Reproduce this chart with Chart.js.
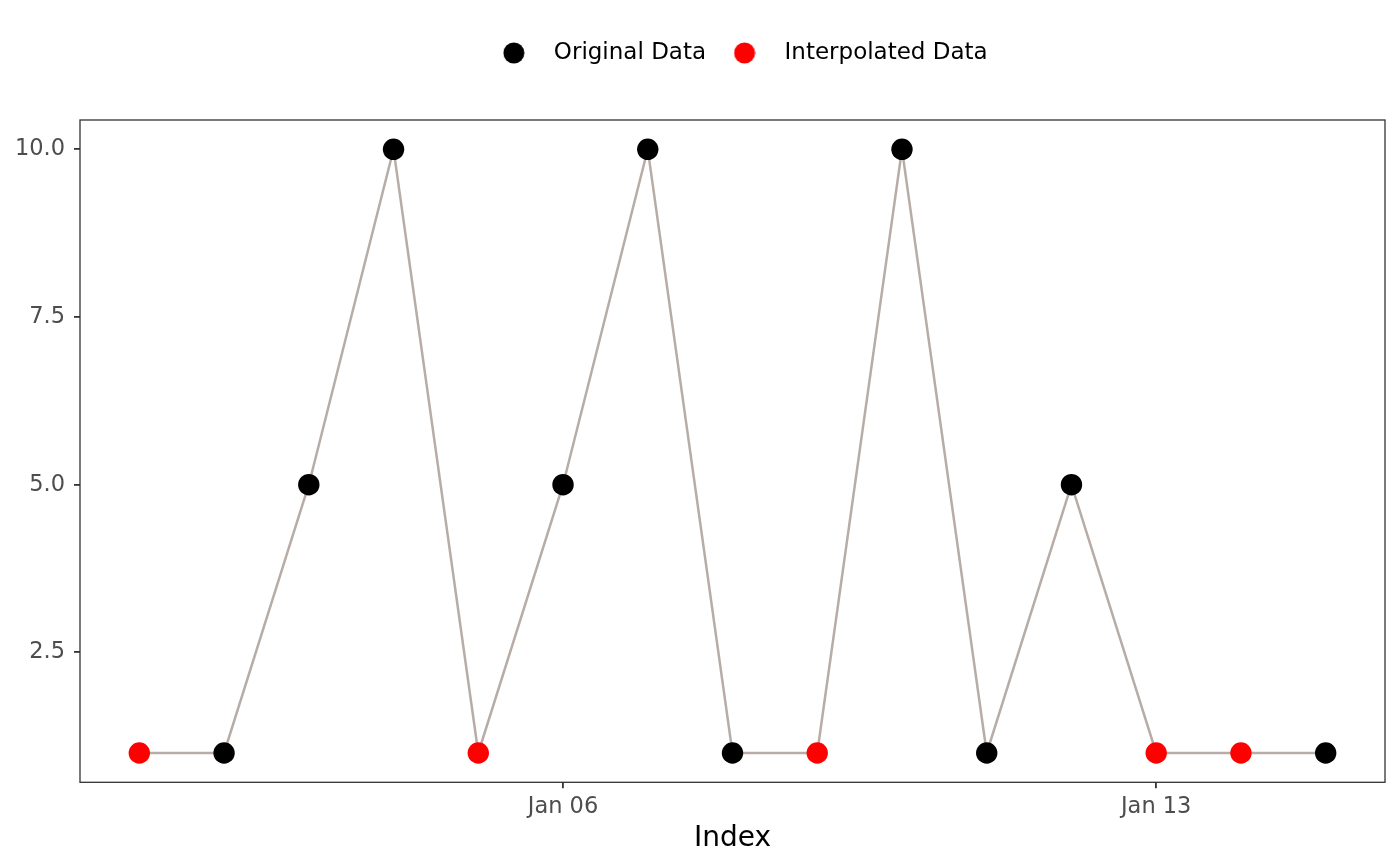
<!DOCTYPE html>
<html>
<head>
<meta charset="utf-8">
<script src="https://cdn.jsdelivr.net/npm/chart.js@4"></script>
<style>
  html, body { margin: 0; padding: 0; background: #ffffff; }
  #wrap { width: 1400px; height: 866px; }
</style>
</head>
<body>
<div id="wrap"><canvas id="c"></canvas></div>
<script>
// ---- data ----
const days = [1, 2, 3, 4, 5, 6, 7, 8, 9, 10, 11, 12, 13, 14, 15];
const values = [1, 1, 5, 10, 1, 5, 10, 1, 1, 10, 1, 5, 1, 1, 1];
const sources = ['interp', 'orig', 'orig', 'orig', 'interp', 'orig', 'orig', 'orig',
                 'interp', 'orig', 'orig', 'orig', 'interp', 'interp', 'orig'];
const xTickValues = [6, 13];
const xTickLabels = ['Jan 06', 'Jan 13'];
const yTickValues = [2.5, 5.0, 7.5, 10.0];
const seriesNames = ['Original Data', 'Interpolated Data'];

const FONT = 'DejaVu Sans';

const origPts = days.map((d, i) => sources[i] === 'orig' ? {x: d, y: values[i]} : null).filter(p => p);
const interpPts = days.map((d, i) => sources[i] === 'interp' ? {x: d, y: values[i]} : null).filter(p => p);
const linePts = days.map((d, i) => ({x: d, y: values[i]}));

function dotImage(color) {
  const cv = document.createElement('canvas');
  cv.width = 22; cv.height = 22;
  const g = cv.getContext('2d');
  g.fillStyle = color;
  g.beginPath();
  g.arc(11, 11, 10.5, 0, Math.PI * 2);
  g.fill();
  return cv;
}
const legendDots = [dotImage('#000000'), dotImage('#ff0000')];

const frame = {
  id: 'frame',
  beforeInit(chart) {
    const lg = chart.legend;
    if (lg) {
      const origFit = lg.fit;
      lg.fit = function () { origFit.call(this); this.height = 88.5; };
      const origDraw = lg.draw;
      lg.draw = function () {
        const ctx = this.ctx;
        ctx.save();
        ctx.translate(44, 0);
        origDraw.call(this);
        ctx.restore();
      };
    }
  },
  afterDatasetsDraw(chart) {
    const a = chart.chartArea, ctx = chart.ctx;
    ctx.save();
    ctx.strokeStyle = '#333333';
    ctx.lineWidth = 1.3;
    ctx.strokeRect(a.left, a.top, a.right - a.left, a.bottom - a.top);
    ctx.restore();
  }
};

new Chart(document.getElementById('c'), {
  type: 'scatter',
  data: {
    datasets: [
      { label: seriesNames[0], data: origPts, showLine: false, pointRadius: 10.7, pointHoverRadius: 10.7,
        pointBackgroundColor: '#000000', pointBorderWidth: 0, borderColor: '#000000', backgroundColor: '#000000' },
      { label: seriesNames[1], data: interpPts, showLine: false, pointRadius: 10.7, pointHoverRadius: 10.7,
        pointBackgroundColor: '#ff0000', pointBorderWidth: 0, borderColor: '#ff0000', backgroundColor: '#ff0000' },
      { label: 'line', data: linePts, showLine: true, pointRadius: 0, borderColor: '#b7ada6',
        borderWidth: 2.5, fill: false, tension: 0 }
    ]
  },
  options: {
    responsive: true,
    maintainAspectRatio: false,
    animation: false,
    layout: { padding: { top: 31.5, right: 15, left: 0, bottom: 0 } },
    plugins: {
      tooltip: { enabled: false },
      legend: {
        position: 'top',
        align: 'center',
        labels: {
          usePointStyle: true,
          pointStyleWidth: 57,
          padding: 10,
          color: '#000000',
          font: { family: FONT, size: 23 },
          generateLabels(chart) {
            return chart.data.datasets.slice(0, 2).map((ds, i) => ({
              text: ds.label,
              fillStyle: ds.backgroundColor,
              strokeStyle: ds.backgroundColor,
              lineWidth: 0,
              pointStyle: legendDots[i],
              hidden: false,
              datasetIndex: i,
              fontColor: '#000000'
            }));
          }
        }
      }
    },
    scales: {
      x: {
        type: 'linear',
        min: 0.3,
        max: 15.7,
        afterBuildTicks(scale) { scale.ticks = xTickValues.map(v => ({value: v})); },
        afterFit(scale) { scale.height = 83.7; },
        ticks: {
          autoSkip: false,
          maxRotation: 0,
          padding: 5,
          color: '#4d4d4d',
          font: { family: FONT, size: 22.5 },
          callback(v) { const k = xTickValues.indexOf(v); return k >= 0 ? xTickLabels[k] : ''; }
        },
        grid: { display: true, drawOnChartArea: false, drawTicks: true, tickLength: 6, color: '#333333', lineWidth: 1.8 },
        border: { display: false },
        title: { display: true, text: 'Index', color: '#000000', font: { family: FONT, size: 28 }, padding: { top: 0, bottom: 10 } }
      },
      y: {
        type: 'linear',
        min: 0.563,
        max: 10.437,
        afterBuildTicks(scale) { scale.ticks = yTickValues.map(v => ({value: v})); },
        afterFit(scale) { scale.width = 80; },
        ticks: {
          padding: 9,
          color: '#4d4d4d',
          font: { family: FONT, size: 22.5 },
          callback(v) { return Number(v).toFixed(1); }
        },
        grid: { display: true, drawOnChartArea: false, drawTicks: true, tickLength: 6, color: '#333333', lineWidth: 1.8 },
        border: { display: false }
      }
    }
  },
  plugins: [frame]
});
</script>
</body>
</html>
